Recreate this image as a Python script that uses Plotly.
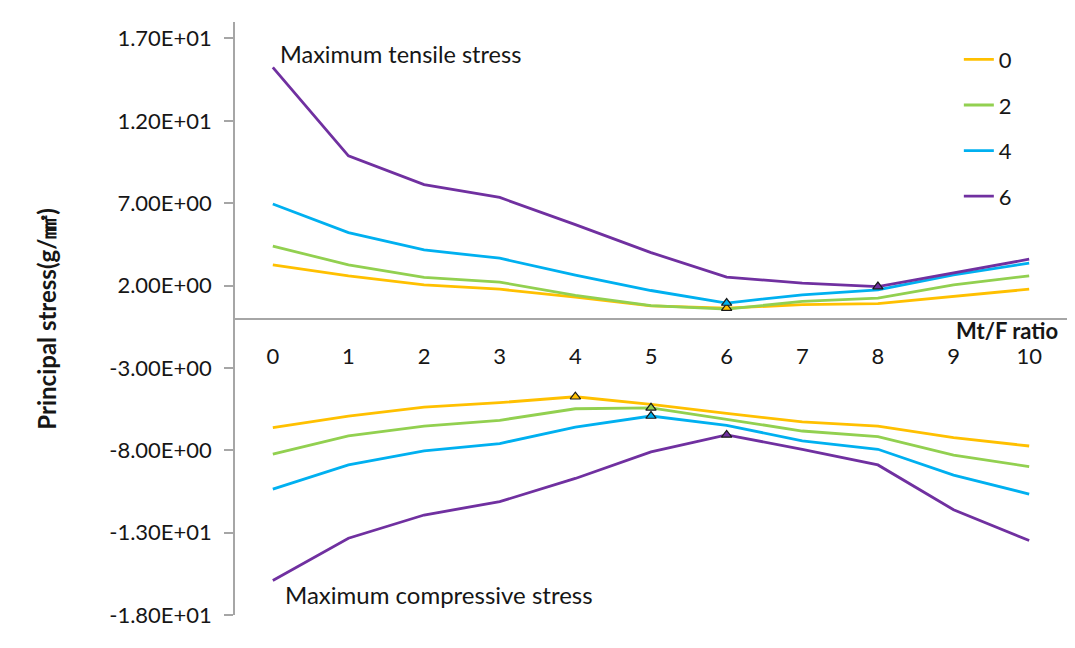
import plotly.graph_objects as go

# Mt/F ratio categories
ratios = list(range(11))

# Series names (legend)
series_names = ["0", "2", "4", "6"]
series_colors = ["#FFC000", "#92D050", "#00B0F0", "#7030A0"]

# Maximum tensile stress for each series
tensile_0 = [3.25, 2.59, 2.04, 1.78, 1.30, 0.77, 0.63, 0.84, 0.90, 1.34, 1.78]
tensile_2 = [4.40, 3.25, 2.49, 2.21, 1.40, 0.78, 0.57, 1.04, 1.24, 2.04, 2.59]
tensile_4 = [6.95, 5.21, 4.16, 3.66, 2.63, 1.70, 0.94, 1.44, 1.74, 2.65, 3.36]
tensile_6 = [15.25, 9.87, 8.13, 7.35, 5.70, 4.00, 2.51, 2.15, 1.94, 2.79, 3.60]

# Maximum compressive stress for each series
compress_0 = [-6.62, -5.92, -5.38, -5.11, -4.75, -5.21, -5.76, -6.28, -6.53, -7.23, -7.74]
compress_2 = [-8.24, -7.13, -6.53, -6.18, -5.48, -5.42, -6.12, -6.83, -7.17, -8.30, -8.99]
compress_4 = [-10.36, -8.89, -8.04, -7.59, -6.59, -5.92, -6.49, -7.43, -7.94, -9.51, -10.66]
compress_6 = [-15.90, -13.34, -11.93, -11.12, -9.71, -8.10, -7.07, -7.94, -8.89, -11.61, -13.48]

# Indices of the highlighted (extreme) points per series
tensile_marks = [[6], [], [6], [8]]
compress_marks = [[4], [5], [5], [6]]

# Y axis ticks
y_ticks = [17, 12, 7, 2, -3, -8, -13, -18]
y_tick_text = ["1.70E+01", "1.20E+01", "7.00E+00", "2.00E+00",
               "-3.00E+00", "-8.00E+00", "-1.30E+01", "-1.80E+01"]

tensile = [tensile_0, tensile_2, tensile_4, tensile_6]
compress = [compress_0, compress_2, compress_4, compress_6]

FONT = "Lato"
TEXT = "#161616"

fig = go.Figure()

for i, name in enumerate(series_names):
    xs = ratios + [None] + ratios
    ys = tensile[i] + [None] + compress[i]
    fig.add_trace(go.Scatter(
        x=xs, y=ys, mode="lines", name=name,
        line=dict(color=series_colors[i], width=2.8),
        connectgaps=False, legendgroup=name,
    ))

for i, name in enumerate(series_names):
    mx = [ratios[k] for k in tensile_marks[i]] + [ratios[k] for k in compress_marks[i]]
    my = [tensile[i][k] for k in tensile_marks[i]] + [compress[i][k] for k in compress_marks[i]]
    fig.add_trace(go.Scatter(
        x=mx, y=my, mode="markers", showlegend=False, legendgroup=name,
        marker=dict(symbol="triangle-up", size=9, color=series_colors[i],
                    line=dict(color="#1a1a1a", width=1.2)),
    ))

fig.update_layout(
    width=1075, height=648,
    margin=dict(l=235, r=8, t=22, b=33),
    paper_bgcolor="white", plot_bgcolor="white",
    font=dict(family=FONT, size=22, color=TEXT),
    showlegend=True,
    legend=dict(
        x=0.870, y=0.972, xanchor="left", yanchor="top",
        bgcolor="rgba(0,0,0,0)", font=dict(size=22, family=FONT, color=TEXT),
        traceorder="grouped", tracegroupgap=14, itemwidth=30,
    ),
    xaxis=dict(
        range=[-0.5, 10.5], tickvals=ratios, ticktext=[str(r) for r in ratios],
        anchor="free", position=0.5,
        showline=False, showgrid=False, zeroline=False, ticks="",
        ticklabelstandoff=22, tickfont=dict(size=22, family=FONT, color=TEXT),
    ),
    yaxis=dict(
        range=[-18, 18], tickvals=y_ticks, ticktext=y_tick_text,
        showline=True, linecolor="#a6a6a6", linewidth=1.5,
        ticks="outside", ticklen=9, tickcolor="#a6a6a6", tickwidth=1.5,
        ticklabelstandoff=8,
        showgrid=False, zeroline=True, zerolinecolor="#a6a6a6", zerolinewidth=2,
        tickfont=dict(size=22, family=FONT, color=TEXT),
    ),
    annotations=[
        dict(text="Maximum tensile stress", xref="x", yref="y", x=0.07, y=16.05,
             xanchor="left", yanchor="middle", showarrow=False,
             font=dict(size=23.5, family=FONT, color=TEXT)),
        dict(text="Maximum compressive stress", xref="x", yref="y", x=0.13, y=-16.75,
             xanchor="left", yanchor="middle", showarrow=False,
             font=dict(size=24, family=FONT, color=TEXT)),
        dict(text="<b>Mt/F ratio</b>", xref="paper", yref="paper", x=0.9916, y=0.479,
             xanchor="right", yanchor="middle", showarrow=False,
             font=dict(size=22, family=FONT, color=TEXT)),
        dict(text="<b>Principal stress(g/㎟)</b>", xref="paper", yref="paper",
             x=-0.227, y=0.5, xanchor="center", yanchor="middle", textangle=-90,
             showarrow=False, font=dict(size=24, family=FONT, color=TEXT)),
    ],
)

fig.write_html("out.html")
